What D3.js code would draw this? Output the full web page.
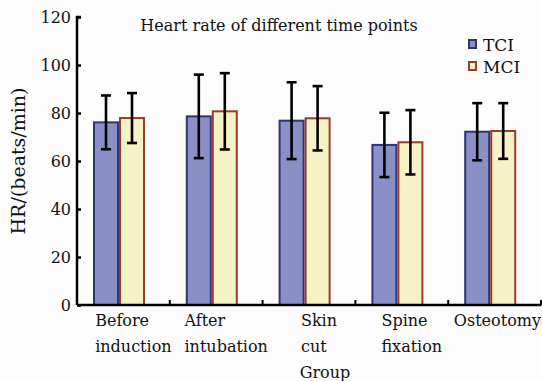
<!DOCTYPE html>
<html>
  <head>
    <style>
      body { margin: 0; background: #fcfcfc; }
      text { font-family: "DejaVu Serif", serif; fill: #111; }
    </style>
  </head>
  <body>
    <script src="https://d3js.org/d3.v7.min.js"></script>
    <div id="chart"></div>
    <script>
      // Data
      var categories = [["Before", "induction"], ["After", "intubation"], ["Skin", "cut"], ["Spine", "fixation"], ["Osteotomy"]];
      var seriesNames = ["TCI", "MCI"];
      var tciMean = [76.1, 78.6, 76.8, 66.7, 72.2];
      var tciSd   = [11.2, 17.4, 16.0, 13.4, 11.9];
      var mciMean = [77.9, 80.7, 77.8, 67.8, 72.5];
      var mciSd   = [10.4, 15.9, 13.4, 13.4, 11.6];
      var yTicks  = [0, 20, 40, 60, 80, 100, 120];

      var W = 542, H = 381;
      var margin = {top: 17, right: 1, bottom: 76, left: 77},
          width = W - margin.left - margin.right,
          height = H - margin.top - margin.bottom;

      var svg = d3.select("#chart")
                  .append("svg")
                    .attr("width", W)
                    .attr("height", H);
      var g = svg.append("g")
                 .attr("transform", "translate(" + margin.left + "," + margin.top + ")");

      // Scales
      var x = d3.scaleBand()
                .domain(d3.range(categories.length))
                .range([0, width]);
      var x1 = d3.scaleBand()
                 .domain(seriesNames)
                 .range([16, 68]);
      var y = d3.scaleLinear()
                .domain([0, 120])
                .range([height, 0]);

      var colors = {
        TCI: {fill: "#8a8fc6", stroke: "#2f3478"},
        MCI: {fill: "#f3f3c6", stroke: "#9b3b2b"}
      };

      var rows = [];
      categories.forEach(function(c, i) {
        rows.push({i: i, s: "TCI", m: tciMean[i], sd: tciSd[i]});
        rows.push({i: i, s: "MCI", m: mciMean[i], sd: mciSd[i]});
      });

      // Bars
      g.selectAll(".bar")
          .data(rows)
        .enter().append("rect")
          .attr("class", "bar")
          .attr("x", function(d) { return x(d.i) + x1(d.s) + 1; })
          .attr("width", x1.bandwidth() - 2)
          .attr("y", function(d) { return y(d.m); })
          .attr("height", function(d) { return height - y(d.m); })
          .attr("fill", function(d) { return colors[d.s].fill; })
          .attr("stroke", function(d) { return colors[d.s].stroke; })
          .attr("stroke-width", 2);

      // Error bars
      var err = g.selectAll(".err")
          .data(rows)
        .enter().append("g")
          .attr("class", "err")
          .attr("stroke", "#000")
          .attr("stroke-width", 2.6);
      err.append("line")
          .attr("x1", function(d) { return x(d.i) + x1(d.s) + x1.bandwidth() / 2; })
          .attr("x2", function(d) { return x(d.i) + x1(d.s) + x1.bandwidth() / 2; })
          .attr("y1", function(d) { return y(d.m + d.sd); })
          .attr("y2", function(d) { return y(d.m - d.sd); });
      [1, -1].forEach(function(k) {
        err.append("line")
            .attr("x1", function(d) { return x(d.i) + x1(d.s) + x1.bandwidth() / 2 - 5; })
            .attr("x2", function(d) { return x(d.i) + x1(d.s) + x1.bandwidth() / 2 + 5; })
            .attr("y1", function(d) { return y(d.m + k * d.sd); })
            .attr("y2", function(d) { return y(d.m + k * d.sd); });
      });

      // Axes
      g.append("g")
          .call(d3.axisRight(y).tickValues(yTicks).tickSize(4).tickFormat(""))
          .call(function(a) { a.select(".domain").attr("stroke-width", 2.5).attr("d", "M4," + y(120) + "H0V" + height); })
          .selectAll("line").attr("stroke-width", 2.5);
      g.selectAll(".ylab")
          .data(yTicks)
        .enter().append("text")
          .attr("x", -6)
          .attr("y", function(d) { return y(d); })
          .attr("dy", "0.36em")
          .attr("text-anchor", "end")
          .style("font-size", "16px")
          .text(function(d) { return d; });

      var xb = d3.range(1, categories.length + 1).map(function(i) { return i * x.bandwidth(); });
      g.append("line")
          .attr("x1", 0).attr("x2", width)
          .attr("y1", height).attr("y2", height)
          .attr("stroke", "#000").attr("stroke-width", 2.5);
      g.selectAll(".xtick")
          .data(xb)
        .enter().append("line")
          .attr("x1", function(d) { return d; }).attr("x2", function(d) { return d; })
          .attr("y1", height).attr("y2", height - 5)
          .attr("stroke", "#000").attr("stroke-width", 2);

      // Category labels: lines left-aligned, block centred near the category
      var cl = g.selectAll(".xlab")
          .data(categories)
        .enter().append("text")
          .attr("class", "xlab")
          .style("font-size", "16px");
      cl.selectAll("tspan")
          .data(function(d) { return d; })
        .enter().append("tspan")
          .attr("x", 0)
          .attr("dy", function(d, j) { return j ? 26 : 0; })
          .text(function(d) { return d; });
      cl.each(function(d, i) {
        var t = d3.select(this);
        var w = d3.max(t.selectAll("tspan").nodes(), function(n) { return n.getComputedTextLength(); });
        var cx = Math.min(x(i) + x.bandwidth() / 2 + 10, width - w / 2);
        t.attr("transform", "translate(" + (cx - w / 2) + "," + (height + 21) + ")");
      });

      // Axis titles
      g.append("text")
          .attr("x", 248)
          .attr("y", height + 73)
          .attr("text-anchor", "middle")
          .style("font-size", "16px")
          .text("Group");
      svg.append("text")
          .attr("transform", "translate(25,161) rotate(-90)")
          .attr("text-anchor", "middle")
          .style("font-size", "19px")
          .text("HR/(beats/min)");

      // Title
      svg.append("text")
          .attr("x", 279)
          .attr("y", 31)
          .attr("text-anchor", "middle")
          .style("font-size", "16px")
          .text("Heart rate of different time points");

      // Legend
      var leg = svg.selectAll(".legend")
          .data(seriesNames)
        .enter().append("g")
          .attr("class", "legend")
          .attr("transform", function(d, i) { return "translate(469," + (40 + i * 22) + ")"; });
      leg.append("rect")
          .attr("width", 7).attr("height", 8)
          .attr("fill", function(d) { return colors[d].fill; })
          .attr("stroke", function(d) { return colors[d].stroke; })
          .attr("stroke-width", 2);
      leg.append("text")
          .attr("x", 14)
          .attr("y", 11)
          .style("font-size", "17px")
          .text(function(d) { return d; });
    </script>
  </body>
</html>
